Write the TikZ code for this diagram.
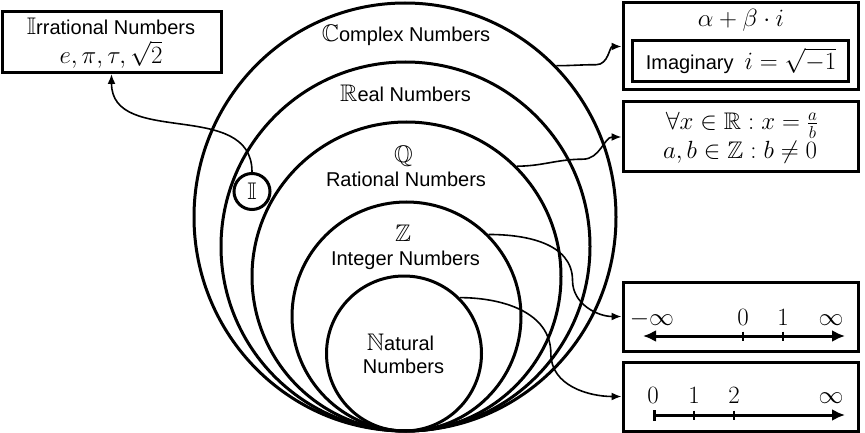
\documentclass[tikz,border=0pt]{standalone}
\usepackage{amssymb}
\usepackage[no-math]{fontspec}
\newfontfamily\lsans[Scale=0.833]{Liberation Sans}
\usetikzlibrary{shapes.geometric,arrows.meta}
\tikzset{bigtip/.tip={Latex[length=13pt,width=12pt]}}
\begin{document}
\begin{tikzpicture}[x=1pt,y=-1pt,
  every node/.style={font=\fontsize{24}{29}\selectfont, inner sep=0pt},
  ell/.style={ellipse, draw, line width=3pt, inner sep=0pt},
  lbl/.style={font=\fontsize{24}{29}\selectfont\lsans},
  box/.style={draw, line width=3pt, rectangle, inner sep=0pt},
  conn/.style={line width=1.6pt, -{Latex[length=10pt,width=8pt]}},
  nline/.style={line width=3pt},
  tickmark/.style={line width=2.5pt}]
\useasboundingbox[fill=white] (0,0) rectangle (865,433);

% nested sets
\node[ell, minimum width=422pt, minimum height=428pt] (C) at (405,217) {};
\node[ell, minimum width=369pt, minimum height=369pt] (R) at (405.5,246.5) {};
\node[ell, minimum width=309pt, minimum height=309pt] (Q) at (406.5,276.5) {};
\node[ell, minimum width=229pt, minimum height=229pt] (Z) at (406.5,316.5) {};
\node[ell, minimum width=155pt, minimum height=155pt] (N) at (404,353.5) {};
\node[circle, draw, line width=3pt, minimum size=36pt] (I) at (252,191.5) {$\mathbb{I}$};

% labels in the sets
\node[lbl, anchor=base] (Ct) at (406,41.7) {$\mathbb{C}$omplex Numbers};
\node[lbl, anchor=base] (Rt) at (405.5,101.5) {$\mathbb{R}$eal Numbers};
\node[anchor=base] (Qs) at (403.5,163) {$\mathbb{Q}$};
\node[lbl, anchor=base] (Qt) at (406,186.7) {Rational Numbers};
\node[anchor=base] (Zs) at (403,241.5) {$\mathbb{Z}$};
\node[lbl, anchor=base] (Zt) at (405.5,265.5) {Integer Numbers};
\node[lbl, anchor=base] (Nt1) at (400.5,350) {$\mathbb{N}$atural};
\node[lbl, anchor=base] (Nt2) at (403.5,373.5) {Numbers};

% irrational box
\node[box, minimum width=219pt, minimum height=61pt] (IB) at (111.5,42) {};
\node[lbl, anchor=base] (IBt) at (111,34.3) {$\mathbb{I}$rrational Numbers};
\node[anchor=base] (IBm) at (111,63.3) {$e,\pi,\tau,\sqrt{2}$};

% complex box
\node[box, minimum width=235pt, minimum height=87pt] (CB) at (740.5,46.5) {};
\node[anchor=base] (CBm) at (741,26.7) {$\alpha+\beta\cdot i$};
\node[box, minimum width=216pt, minimum height=41pt] (IMB) at (740.5,61.5) {};
\node[lbl, anchor=base] (IMt) at (741,69.3) {Imaginary\ \ $i=\sqrt{-1}$};

% rational box
\node[box, minimum width=235pt, minimum height=70pt] (QB) at (740.5,137) {};
\node[anchor=base] (QB1) at (742,130) {$\forall x\in\mathbb{R}:x=\frac{a}{b}$};
\node[anchor=base] (QB2) at (740,158.3) {$a,b\in\mathbb{Z}:b\neq 0$};

% integer box
\node[box, minimum width=235pt, minimum height=69pt] (ZB) at (740.5,316.5) {};
\coordinate (zl) at (643,336);
\coordinate (zr) at (845,336);
\coordinate (z0) at (743,336);
\coordinate (z1) at (783,336);
\draw[nline, bigtip-bigtip] (zl) -- (zr);
\draw[tickmark] ([yshift=4.5pt]z0) -- ([yshift=-4.5pt]z0);
\draw[tickmark] ([yshift=4.5pt]z1) -- ([yshift=-4.5pt]z1);
\node[anchor=base] (zlm) at (652,325) {$-\infty$};
\node[anchor=base] (zl0) at (743,325) {$0$};
\node[anchor=base] (zl1) at (783,325) {$1$};
\node[anchor=base] (zli) at (831,325) {$\infty$};

% natural box
\node[box, minimum width=235pt, minimum height=69pt] (NB) at (740.5,396.5) {};
\coordinate (n0) at (653,415);
\coordinate (n1) at (694,415);
\coordinate (n2) at (734,415);
\coordinate (nr) at (845,415);
\draw[nline, {Bar[width=11pt]}-bigtip] (n0) -- (nr);
\draw[tickmark] ([yshift=4.5pt]n1) -- ([yshift=-4.5pt]n1);
\draw[tickmark] ([yshift=4.5pt]n2) -- ([yshift=-4.5pt]n2);
\node[anchor=base] (nl0) at (653,403.3) {$0$};
\node[anchor=base] (nl1) at (694,403.3) {$1$};
\node[anchor=base] (nl2) at (734,403.3) {$2$};
\node[anchor=base] (nli) at (831,403.3) {$\infty$};

% connectors
\draw[conn] (I.north) to[out=90,in=-90,looseness=1.1] (IB.south);
\draw[conn] (C.45) to[out=0,in=180] ++(40,-1) to[out=0,in=180] (CB.west);
\draw[conn] (Q.45) to[out=0,in=180] ++(66,-7) to[out=0,in=180] (QB.west);
\draw[conn] (Z.45) to[out=0,in=90] ++(84,46) to[out=-90,in=180] (ZB.west);
\draw[conn] (N.45) to[out=0,in=90] ++(91,56) to[out=-90,in=180] (NB.west);
\end{tikzpicture}
\end{document}
